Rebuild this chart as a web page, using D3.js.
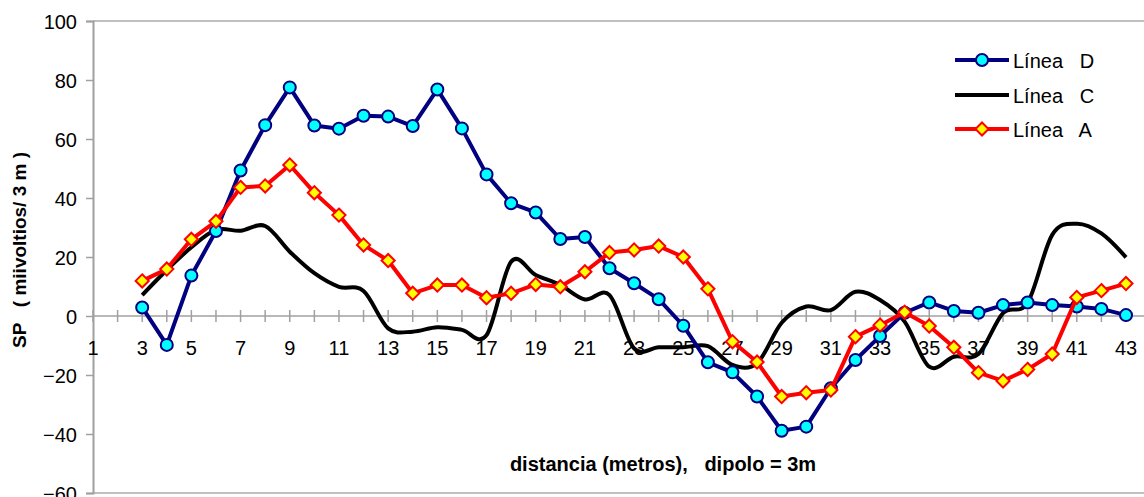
<!DOCTYPE html>
<html>
<head>
<meta charset="utf-8">
<script src="https://cdnjs.cloudflare.com/ajax/libs/d3/7.8.5/d3.min.js"></script>
<style>
  body { margin: 0; background: #fff; }
  svg { display: block; font-family: "Liberation Sans", Arial, sans-serif; }
  text { white-space: pre; }
</style>
</head>
<body>
<script>
// categorías del eje X (distancia)
var categorias = d3.range(1, 44);
var etiquetasX = d3.range(1, 44, 2);
var ticksY = [-60, -40, -20, 0, 20, 40, 60, 80, 100];

// las series empiezan en la distancia 3
var distancias = d3.range(3, 44);

var lineaD = [2.9, -9.8, 13.7, 28.8, 49.3, 64.7, 77.5, 64.6, 63.5, 67.9, 67.6,
  64.4, 76.8, 63.6, 48.0, 38.2, 35.1, 26.1, 26.8, 16.2, 11.1, 5.7, -3.3, -15.7,
  -19.1, -27.3, -38.9, -37.5, -24.5, -14.9, -6.8, 1.1, 4.6, 1.7, 1.1, 3.7, 4.6,
  3.7, 3.2, 2.4, 0.3];

var lineaC = [7.1, 15.6, 23.3, 29.2, 28.9, 30.5, 21.8, 14.5, 9.9, 8.5, -4.2,
  -5.3, -3.8, -4.7, -6.5, 18.4, 13.9, 10.5, 5.6, 7.1, -11.0, -10.6, -10.6, -10.2,
  -16.6, -16.0, -2.3, 3.2, 2.0, 8.2, 5.4, -1.9, -17.2, -13.8, -12.9, 1.0, 4.5,
  27.5, 31.3, 28.0, 19.9];

var lineaA = [11.9, 15.9, 26.0, 32.1, 43.6, 44.1, 51.2, 41.8, 34.2, 24.1, 18.8,
  7.7, 10.5, 10.5, 6.2, 7.7, 10.7, 9.9, 15.0, 21.5, 22.4, 23.7, 20.0, 9.2, -8.7,
  -15.6, -27.3, -26.0, -25.1, -7.0, -3.1, 1.3, -3.4, -10.6, -19.2, -22.0, -18.1,
  -12.9, 6.3, 8.6, 11.0];

var nombres = ["Línea   D", "Línea   C", "Línea   A"];

var width = 1144;
var height = 497;

var svg = d3.select("body")
    .append("svg")
    .attr("width", width)
    .attr("height", height);

// escalas
var x = d3.scalePoint().domain(categorias).range([93, 1126]);
var y = d3.scaleLinear().domain([-60, 100]).range([493, 21]);

// marco del área de trazado
svg.append("line")
    .attr("x1", 93).attr("x2", width).attr("y1", 21).attr("y2", 21)
    .attr("stroke", "#c0c0c0").attr("stroke-width", 2);
svg.append("line")
    .attr("x1", 93).attr("x2", width).attr("y1", 493).attr("y2", 493)
    .attr("stroke", "#c0c0c0").attr("stroke-width", 2);

// eje Y
var ejeY = svg.append("g")
    .attr("transform", "translate(93,0)")
    .call(d3.axisLeft(y).tickValues(ticksY).tickSize(7).tickPadding(9));
ejeY.select(".domain").attr("stroke", "#a0a0a0").attr("stroke-width", 2);
ejeY.selectAll(".tick line").attr("stroke", "#a0a0a0").attr("stroke-width", 1.5);
ejeY.selectAll(".tick text")
    .attr("font-size", 20).attr("font-family", "Liberation Sans, Arial")
    .attr("fill", "#000").attr("dy", "0.35em");

// eje X en y = 0
svg.append("line")
    .attr("x1", 93).attr("x2", width).attr("y1", y(0)).attr("y2", y(0))
    .attr("stroke", "#a0a0a0").attr("stroke-width", 1.5);
svg.selectAll(".tickx")
    .data(categorias)
    .enter()
    .append("line")
    .attr("class", "tickx")
    .attr("x1", d => x(d)).attr("x2", d => x(d))
    .attr("y1", y(0) - 6).attr("y2", y(0) + 6)
    .attr("stroke", "#a0a0a0").attr("stroke-width", 1.5);
svg.selectAll(".etqx")
    .data(etiquetasX)
    .enter()
    .append("text")
    .attr("class", "etqx")
    .attr("x", d => x(d))
    .attr("y", y(0) + 39)
    .attr("text-anchor", "middle")
    .attr("font-size", 20)
    .text(d => d);

// títulos de ejes
svg.append("text")
    .attr("transform", "translate(26,250) rotate(-90)")
    .attr("text-anchor", "middle")
    .attr("font-size", 19)
    .attr("font-weight", "bold")
    .text("SP   ( miivoltios/ 3 m )");
svg.append("text")
    .attr("x", 663).attr("y", 471)
    .attr("text-anchor", "middle")
    .attr("font-size", 20)
    .attr("font-weight", "bold")
    .text("distancia (metros),   dipolo = 3m");

// generadores de línea
var lineaRecta = d3.line().x(d => x(d[0])).y(d => y(d[1]));
var lineaSuave = d3.line().x(d => x(d[0])).y(d => y(d[1])).curve(d3.curveCardinal.tension(0));

function pares(valores) {
    return distancias.map((d, i) => [d, valores[i]]);
}

var diamante = d3.symbol().type(d3.symbolDiamond2).size(110);

// Línea C (negra, suavizada, sin marcadores)
svg.append("path")
    .attr("d", lineaSuave(pares(lineaC)))
    .attr("fill", "none").attr("stroke", "#000").attr("stroke-width", 4);

// Línea D
svg.append("path")
    .attr("d", lineaRecta(pares(lineaD)))
    .attr("fill", "none").attr("stroke", "#000080").attr("stroke-width", 4)
    .attr("stroke-linejoin", "round");
svg.selectAll(".ptD")
    .data(pares(lineaD))
    .enter()
    .append("circle")
    .attr("class", "ptD")
    .attr("cx", d => x(d[0])).attr("cy", d => y(d[1]))
    .attr("r", 6)
    .attr("fill", "#00ffff").attr("stroke", "#000080").attr("stroke-width", 2);

// Línea A
svg.append("path")
    .attr("d", lineaRecta(pares(lineaA)))
    .attr("fill", "none").attr("stroke", "#ff0000").attr("stroke-width", 4)
    .attr("stroke-linejoin", "round");
svg.selectAll(".ptA")
    .data(pares(lineaA))
    .enter()
    .append("path")
    .attr("class", "ptA")
    .attr("transform", d => "translate(" + x(d[0]) + "," + y(d[1]) + ")")
    .attr("d", diamante)
    .attr("fill", "#ffff00").attr("stroke", "#ff0000").attr("stroke-width", 2);

// leyenda
var leyenda = svg.append("g");
var filas = [60, 95, 129];
var colores = ["#000080", "#000", "#ff0000"];
nombres.forEach(function (n, i) {
    leyenda.append("line")
        .attr("x1", 955).attr("x2", 1009).attr("y1", filas[i]).attr("y2", filas[i])
        .attr("stroke", colores[i]).attr("stroke-width", 4);
    leyenda.append("text")
        .attr("x", 1013).attr("y", filas[i] + 8)
        .attr("font-size", 20)
        .text(n);
});
leyenda.append("circle")
    .attr("cx", 982).attr("cy", filas[0]).attr("r", 6)
    .attr("fill", "#00ffff").attr("stroke", "#000080").attr("stroke-width", 2);
leyenda.append("path")
    .attr("transform", "translate(982," + filas[2] + ")")
    .attr("d", diamante)
    .attr("fill", "#ffff00").attr("stroke", "#ff0000").attr("stroke-width", 2);
</script>
</body>
</html>
